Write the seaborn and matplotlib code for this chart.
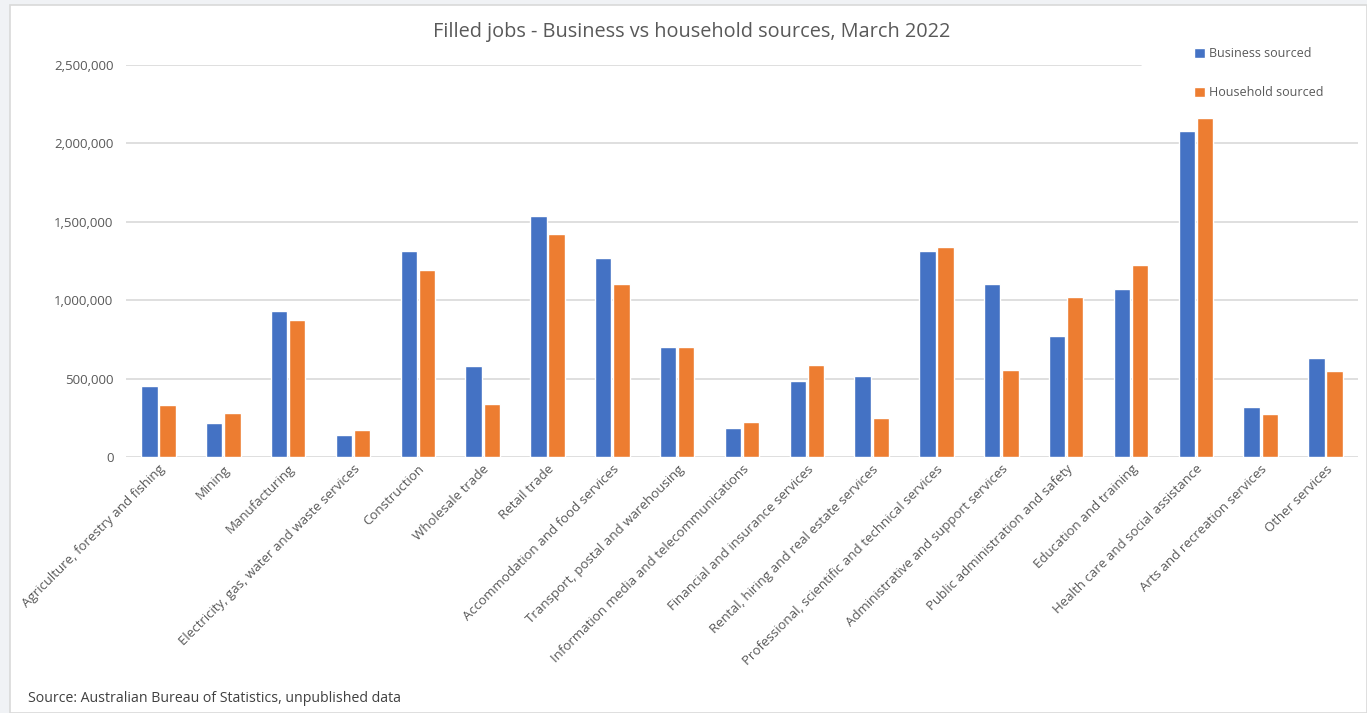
import matplotlib
matplotlib.use("Agg")
import matplotlib.pyplot as plt
import seaborn as sns
import pandas as pd
from matplotlib.patches import Rectangle
from matplotlib.ticker import FuncFormatter

categories = [
    "Agriculture, forestry and fishing", "Mining", "Manufacturing",
    "Electricity, gas, water and waste services", "Construction",
    "Wholesale trade", "Retail trade", "Accommodation and food services",
    "Transport, postal and warehousing", "Information media and telecommunications",
    "Financial and insurance services", "Rental, hiring and real estate services",
    "Professional, scientific and technical services",
    "Administrative and support services", "Public administration and safety",
    "Education and training", "Health care and social assistance",
    "Arts and recreation services", "Other services",
]
business = [452000, 217000, 933000, 140000, 1314000, 582000, 1537000, 1270000,
            701000, 185000, 485000, 517000, 1314000, 1103000, 772000, 1071000,
            2079000, 319000, 631000]
household = [331000, 280000, 876000, 172000, 1193000, 339000, 1422000, 1103000,
             703000, 223000, 587000, 249000, 1339000, 555000, 1020000, 1226000,
             2162000, 274000, 548000]
series_names = ["Business sourced", "Household sourced"]
title = "Filled jobs - Business vs household sources, March 2022"
source = "Source: Australian Bureau of Statistics, unpublished data"

df = pd.DataFrame({
    "Industry": categories * 2,
    "Series": [series_names[0]] * len(categories) + [series_names[1]] * len(categories),
    "Jobs": business + household,
})

sns.set_theme(style="white")
plt.rcParams["font.family"] = ["Open Sans", "DejaVu Sans"]

W, H = 1367, 713
fig = plt.figure(figsize=(W / 100, H / 100), dpi=100)
fig.patch.set_facecolor("#F0F2F5")
fig.add_artist(Rectangle((10 / W, 0), 1 - 10 / W, 1 - 5 / H, transform=fig.transFigure,
                         facecolor="white", edgecolor="#D9D9D9", linewidth=1.2, zorder=0))

ax = fig.add_axes([126 / W, 1 - 457 / H, (1358 - 126) / W, (457 - 65) / H])
ax.set_facecolor("none")
sns.barplot(data=df, x="Industry", y="Jobs", hue="Series",
            palette=["#4472C4", "#ED7D31"], saturation=1, width=0.56, gap=0.1,
            ax=ax, legend=True, zorder=3)

ax.set_ylim(0, 2500000)
ax.set_xlim(-0.5, len(categories) - 0.5)
yt = [0, 500000, 1000000, 1500000, 2000000, 2500000]
ax.set_yticks(yt)
ax.yaxis.set_major_formatter(FuncFormatter(lambda v, p: f"{int(v):,}"))
for v in yt:
    xmax = (1141 - 126) / (1358 - 126) if v == 2500000 else 1
    ax.axhline(v, xmin=0, xmax=xmax, color="#D9D9D9", linewidth=1.2, zorder=1)
for s in ax.spines.values():
    s.set_visible(False)
ax.set_xlabel("")
ax.set_ylabel("")
ax.tick_params(axis="y", labelsize=9.5, colors="#595959", length=0, pad=9)
ax.tick_params(axis="x", labelsize=9.5, colors="#595959", length=0, pad=4)
plt.setp(ax.get_xticklabels(), rotation=45, ha="right", rotation_mode="anchor")

handles, labels = ax.get_legend_handles_labels()
ax.legend(handles, labels, loc="upper left", bbox_to_anchor=(1183 / W, 1 - 36 / H),
          bbox_transform=fig.transFigure, frameon=False, fontsize=9,
          handlelength=0.85, handleheight=0.85, handletextpad=0.3, labelspacing=2.1,
          labelcolor="#595959")

fig.text(692 / W, 1 - 32 / H, title, ha="center", va="center", fontsize=14.3, color="#595959")
fig.text(28 / W, 1 - 698 / H, source, ha="left", va="center", fontsize=10.2, color="#404040")

fig.savefig("out.png", dpi=100)
